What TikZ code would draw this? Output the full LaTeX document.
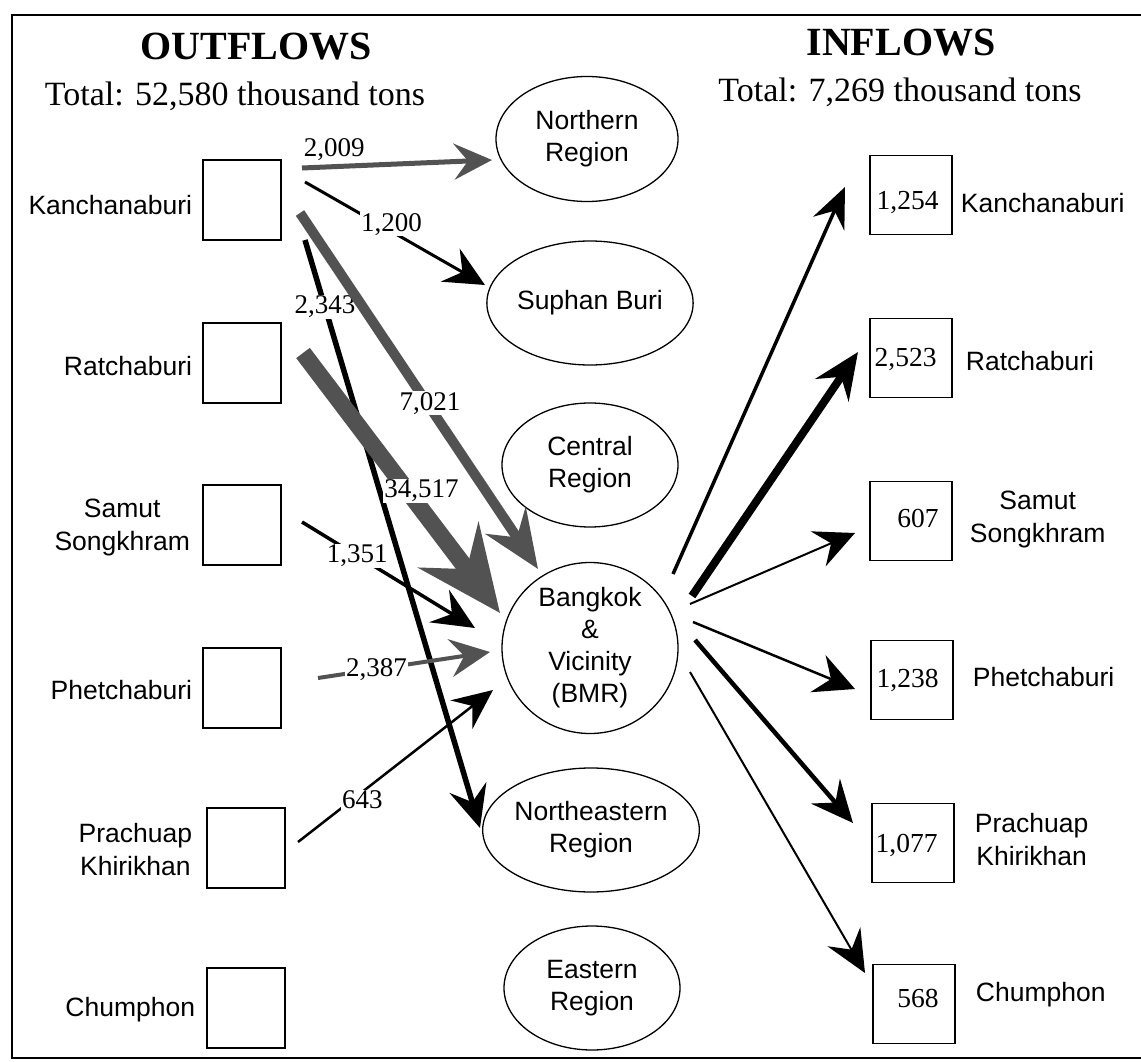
\documentclass[tikz,border=0pt]{standalone}
\usepackage{fontspec}
\setmainfont{Liberation Serif}
\setsansfont{Liberation Sans}
\usetikzlibrary{shapes.geometric,arrows.meta,calc}
\begin{document}
\begin{tikzpicture}[x=1pt,y=-1pt,
  titletext/.style={font=\bfseries\fontsize{40}{44}\selectfont, inner sep=0pt},
  totaltext/.style={font=\fontsize{34}{38}\selectfont, inner sep=0pt},
  lbl/.style={font=\sffamily\fontsize{26.5}{33}\selectfont, align=center, inner sep=0pt},
  reg/.style={ellipse, draw, line width=1.3pt, minimum width=176pt, minimum height=124pt,
    font=\sffamily\fontsize{26.5}{32}\selectfont, align=center, inner sep=0pt},
  srcbox/.style={draw, line width=1.5pt, minimum width=78pt, minimum height=80pt, inner sep=0pt},
  dstbox/.style={draw, line width=1.5pt, minimum width=82pt, minimum height=79pt, inner sep=0pt},
  num/.style={font=\fontsize{27.5}{30}\selectfont, inner sep=0pt},
  flownum/.style={font=\fontsize{27}{30}\selectfont, fill=white, inner sep=1pt},
  grayflow/.style={draw=black!68},
  blackflow/.style={draw=black}
]
\useasboundingbox (0,0) rectangle (1141,1062);
\fill[white] (0,0) rectangle (1141,1062);
\draw[line width=2pt] (1141,15) -- (12,15) -- (12,1058) -- (1141,1058);

% titles
\node[titletext, anchor=base] (ot) at (256,60) {OUTFLOWS};
\node[totaltext, anchor=base] (otot) at (235,106) {Total: 52,580 thousand tons};
\node[titletext, anchor=base] (it) at (901,56) {INFLOWS};
\node[totaltext, anchor=base] (itot) at (900,102) {Total: 7,269 thousand tons};

% left boxes
\node[srcbox] (ko1) at (242,200) {};
\node[srcbox] (ko2) at (242,363) {};
\node[srcbox] (ko3) at (242,525) {};
\node[srcbox] (ko4) at (242,688) {};
\node[srcbox] (ko5) at (246,848) {};
\node[srcbox] (ko6) at (246,1008) {};

\node[lbl, anchor=east] (lo1) at ([xshift=-10pt,yshift=-5pt]ko1.west) {Kanchanaburi};
\node[lbl, anchor=east] (lo2) at ([xshift=-10pt,yshift=-3pt]ko2.west) {Ratchaburi};
\node[lbl, anchor=east] (lo3) at ([xshift=-12pt,yshift=-2pt]ko3.west) {Samut\\Songkhram};
\node[lbl, anchor=east] (lo4) at ([xshift=-10pt,yshift=-2pt]ko4.west) {Phetchaburi};
\node[lbl, anchor=east] (lo5) at ([xshift=-14pt,yshift=-2pt]ko5.west) {Prachuap\\Khirikhan};
\node[lbl, anchor=east] (lo6) at ([xshift=-11pt,yshift=-2pt]ko6.west) {Chumphon};

% regions
\node[reg, minimum width=182pt, minimum height=125pt] (nr) at (587,139) {Northern\\Region};
\node[reg] (sb) at (590,303) {Suphan Buri};
\node[reg] (cr) at (590,465) {Central\\Region};
\node[reg, minimum width=176pt, minimum height=171pt] (bk) at (590,648) {Bangkok\\\&\\Vicinity\\(BMR)};
\node[reg] (ne) at (591,830) {Northeastern\\Region};
\node[reg] (er) at (592,988) {Eastern\\Region};

% right boxes
\node[dstbox] (ki1) at (911,195) {};
\node[dstbox] (ki2) at (911,358) {};
\node[dstbox] (ki3) at (911,521) {};
\node[dstbox] (ki4) at (912,680) {};
\node[dstbox] (ki5) at (913,843) {};
\node[dstbox] (ki6) at (914,1004) {};

\node[num, anchor=east] (ni1) at ([xshift=-14pt,yshift=-8pt]ki1.east) {1,254};
\node[num, anchor=east] (ni2) at ([xshift=-16pt,yshift=-2pt]ki2.east) {2,523};
\node[num, anchor=east] (ni3) at ([xshift=-14pt,yshift=3pt]ki3.east) {607};
\node[num, anchor=east] (ni4) at ([xshift=-15pt]ki4.east) {1,238};
\node[num, anchor=east] (ni5) at ([xshift=-17pt,yshift=-2pt]ki5.east) {1,077};
\node[num, anchor=east] (ni6) at ([xshift=-17pt,yshift=6pt]ki6.east) {568};

\node[lbl, anchor=west] (li1) at ([xshift=8pt,yshift=-8pt]ki1.east) {Kanchanaburi};
\node[lbl, anchor=west] (li2) at ([xshift=13pt,yshift=-3pt]ki2.east) {Ratchaburi};
\node[lbl, anchor=west] (li3) at ([xshift=17pt,yshift=2pt]ki3.east) {Samut\\Songkhram};
\node[lbl, anchor=west] (li4) at ([xshift=19pt,yshift=3pt]ki4.east) {Phetchaburi};
\node[lbl, anchor=west] (li5) at ([xshift=20pt,yshift=3pt]ki5.east) {Prachuap\\Khirikhan};
\node[lbl, anchor=west] (li6) at ([xshift=20pt,yshift=9pt]ki6.east) {Chumphon};

% outflows
\draw[grayflow, line width=5pt, -{Stealth[length=38pt,width=36pt,inset=14pt]}]
  ($(ko1.center)+(60,-32)$) -- node[pos=0.17, above=3pt, font=\fontsize{27}{30}\selectfont, inner sep=0pt] (f1) {2,009} ($(nr.center)+(-95,21)$);
\draw[blackflow, line width=3pt, -{Stealth[length=40pt,width=38pt,inset=14pt]}]
  ($(ko1.center)+(63,-18)$) -- node[pos=0.48, yshift=7pt, flownum] (f2) {1,200} ($(sb.center)+(-105,-18)$);
\draw[blackflow, line width=5.5pt, -{Stealth[length=42pt,width=38pt,inset=15pt]}]
  ($(ko1.center)+(63,40)$) -- node[pos=0.114, flownum] (f4) {2,343} ($(ne.center)+(-111,-2)$);
\draw[grayflow, line width=10pt, -{Stealth[length=58pt,width=48pt,inset=20pt]}]
  ($(ko1.center)+(58,13)$) -- node[pos=0.546, yshift=4pt, flownum] (f3) {7,021} ($(bk.center)+(-52,-79)$);
\draw[grayflow, line width=17pt, -{Stealth[length=85pt,width=75pt,inset=30pt]}]
  ($(ko2.center)+(61,-10)$) -- node[pos=0.53, xshift=14pt, flownum] (f5) {34,517} ($(bk.center)+(-90,-35)$);
\draw[blackflow, line width=3.5pt, -{Stealth[length=42pt,width=38pt,inset=15pt]}]
  ($(ko3.center)+(60,-3)$) -- node[pos=0.32, flownum] (f6) {1,351} ($(bk.center)+(-115,-20)$);
\draw[grayflow, line width=4pt, -{Stealth[length=40pt,width=38pt,inset=14pt]}]
  ($(ko4.center)+(76,-10)$) -- node[pos=0.34, flownum] (f7) {2,387} ($(bk.center)+(-100,4)$);
\draw[blackflow, line width=2.5pt, -{Stealth[length=40pt,width=36pt,inset=14pt]}]
  ($(ko5.center)+(52,-6)$) -- node[pos=0.33, yshift=-8pt, flownum] (f8) {643} ($(bk.center)+(-97,42)$);

% inflows
\draw[blackflow, line width=3.5pt, -{Stealth[length=40pt,width=34pt,inset=14pt]}]
  ($(bk.center)+(83,-74)$) -- ($(ki1.center)+(-66,-8)$);
\draw[blackflow, line width=8pt, -{Stealth[length=46pt,width=40pt,inset=16pt]}]
  ($(bk.center)+(102,-52)$) -- ($(ki2.center)+(-53,-6)$);
\draw[blackflow, line width=2pt, -{Stealth[length=40pt,width=38pt,inset=14pt]}]
  ($(bk.center)+(100,-44)$) -- ($(ki3.center)+(-56,12)$);
\draw[blackflow, line width=2.5pt, -{Stealth[length=40pt,width=40pt,inset=14pt]}]
  ($(bk.center)+(103,-26)$) -- ($(ki4.center)+(-57,9)$);
\draw[blackflow, line width=4.5pt, -{Stealth[length=42pt,width=38pt,inset=15pt]}]
  ($(bk.center)+(105,-8)$) -- ($(ki5.center)+(-60,-20)$);
\draw[blackflow, line width=2pt, -{Stealth[length=42pt,width=38pt,inset=15pt]}]
  ($(bk.center)+(100,24)$) -- ($(ki6.center)+(-49,-31)$);
\end{tikzpicture}
\end{document}
